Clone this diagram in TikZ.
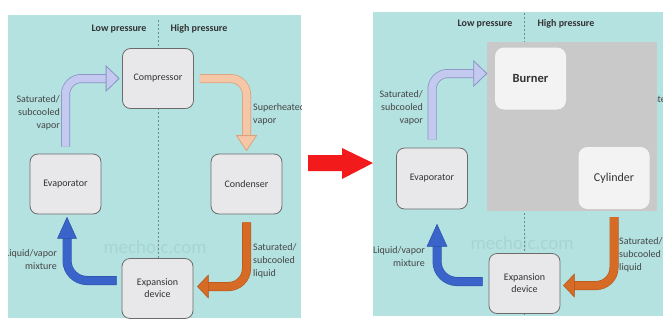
\documentclass[tikz,border=0pt]{standalone}
\usepackage{fontspec}
\setmainfont{Carlito}
\usetikzlibrary{calc}

\definecolor{panel}{HTML}{B4E2E1}
\definecolor{boxfill}{HTML}{E8E8EB}
\definecolor{boxline}{HTML}{6B6B6B}
\definecolor{boxtxt}{HTML}{333333}
\definecolor{notetxt}{HTML}{454545}
\definecolor{dashcol}{HTML}{6F8A8C}
\definecolor{wmcol}{HTML}{A8D5D4}
\definecolor{greyarea}{HTML}{C9C9C9}
\definecolor{whitebox}{HTML}{F3F3F3}
\definecolor{lav}{HTML}{C3C9EF}
\definecolor{lavb}{HTML}{8A92C4}
\definecolor{peach}{HTML}{F6C7A7}
\definecolor{peachb}{HTML}{D9A27F}
\definecolor{rust}{HTML}{D66B26}
\definecolor{rustb}{HTML}{B0541A}
\definecolor{royal}{HTML}{3A64C9}
\definecolor{royalb}{HTML}{2B4FA8}
\definecolor{signal}{HTML}{F21A1A}

\begin{document}
\begin{tikzpicture}[x=1pt, y=-1pt,
    unit/.style = {draw=boxline, fill=boxfill, rounded corners=8pt, line width=0.8pt,
                   minimum width=71pt, minimum height=60pt, align=center, text=boxtxt,
                   font=\fontsize{10}{12}\selectfont},
    plain/.style = {fill=whitebox, rounded corners=9pt, minimum width=71pt,
                    minimum height=62pt, text=boxtxt},
    note/.style = {inner sep=0pt, text=notetxt, font=\fontsize{10}{13}\selectfont},
    side/.style = {inner sep=0pt, text=boxtxt, font=\bfseries\fontsize{10}{12}\selectfont},
    divider/.style = {draw=dashcol, line width=0.8pt, dash pattern=on 2pt off 2pt},
    wmark/.style = {inner sep=0pt, text=wmcol, font=\fontsize{19}{20}\selectfont},
    lavshaft/.style = {draw=lav, line width=7.5pt, rounded corners=16pt,
                       preaction={draw=lavb, line width=9pt}},
    peachshaft/.style = {draw=peach, line width=7.5pt, rounded corners=16pt,
                         preaction={draw=peachb, line width=9pt}},
    rustshaft/.style = {draw=rust, line width=8pt, rounded corners=18pt,
                        preaction={draw=rustb, line width=9pt}},
    royalshaft/.style = {draw=royal, line width=8pt, rounded corners=20pt,
                         preaction={draw=royalb, line width=9pt}},
    lavhead/.style = {fill=lav, draw=lavb, line width=0.8pt},
    peachhead/.style = {fill=peach, draw=peachb, line width=0.8pt},
    rusthead/.style = {fill=rust, draw=rustb, line width=0.5pt},
    royalhead/.style = {fill=royal, draw=royalb, line width=0.5pt}]

\useasboundingbox (0,0) rectangle (663,322);

% the two panels
\fill[panel] (8,15) rectangle (301,318);
\fill[panel] (373,12) rectangle (663,316);

\node[wmark] (wm) at (155,247) {mechoic.com};
\node[wmark] (wm2) at (522,243) {mechoic.com};

\draw[divider] (158,20) -- (158,318);
\draw[divider] (524,13) -- (524,316);

% hidden behind the grey area
\begin{scope}
  \clip (373,12) rectangle (663,316);
  \node[note, anchor=west, align=left] (sup2) at (619,106) {Superheated\\vapor};
\end{scope}
\fill[greyarea] (487,42) rectangle (657,211);

% left cycle
\node[unit] (comp) at (158,78.5) {Compressor};
\node[unit] (evap) at (65.5,184) {Evaporator};
\node[unit] (cond) at (246.5,184) {Condenser};
\node[unit] (expn) at (157.5,288.5) {Expansion\\device};

\draw[lavshaft] ($(evap.north)+(0,-7)$) |- ($(comp.west)+(-12,0)$);
\filldraw[lavhead] ($(comp.west)+(-3,0)$) -- ++(-13,-12.5) -- ++(0,25) -- cycle;

\draw[peachshaft] ($(comp.east)+(6,0)$) -| ($(cond.north)+(0,-12)$);
\filldraw[peachhead] ($(cond.north)+(0,-3)$) -- ++(-10,-15) -- ++(20,0) -- cycle;

\draw[rustshaft] ($(cond.south)+(0,8)$) |- ($(expn.east)+(12,-2)$);
\filldraw[rusthead] ($(expn.east)+(4,-2)$) -- ++(11,-11.5) -- ++(0,23) -- cycle;

\draw[royalshaft] ($(expn.west)+(-5,-8)$) -| ($(evap.south)+(1.5,16)$);
\filldraw[royalhead] ($(evap.south)+(1.5,3)$) -- ++(-9.5,21) -- ++(19,0) -- cycle;

\begin{scope}
  \clip (8,15) rectangle (301,318);
  \node[note, anchor=east, align=right] (satv) at (60,113) {Saturated/\\subcooled\\vapor};
  \node[note, anchor=west, align=left] (sup) at (253,114) {Superheated\\vapor};
  \node[note, anchor=west, align=left] (satl) at (253,261) {Saturated/\\subcooled\\liquid};
  \node[note, anchor=east, align=right] (mix) at (57,260) {Liquid/vapor\\mixture};
\end{scope}

\node[side] (low) at (119,29) {Low pressure};
\node[side] (high) at (199,29) {High pressure};

% red arrow between panels
\fill[signal] (308,155) -- (342,155) -- (342,148) -- (373,163) -- (342,179)
  -- (342,171) -- (308,171) -- cycle;

% right cycle
\node[plain, font=\bfseries\fontsize{12.5}{14}\selectfont] (burner) at (530.5,78.5) {Burner};
\node[plain, font=\fontsize{12}{14}\selectfont] (cyl) at (614,178) {Cylinder};
\node[unit, minimum height=61pt] (evap2) at (432,178.5) {Evaporator};
\node[unit] (expn2) at (524.5,283.5) {Expansion\\device};

\draw[lavshaft] ($(evap2.north)+(0,-8)$) |- ($(burner.west)+(-17,-5)$);
\filldraw[lavhead] ($(burner.west)+(-8,-5)$) -- ++(-13,-12.5) -- ++(0,25) -- cycle;

\draw[rustshaft] ($(cyl.south)+(0,8)$) |- ($(expn2.east)+(11,2)$);
\filldraw[rusthead] ($(expn2.east)+(3,2)$) -- ++(11,-11.5) -- ++(0,23) -- cycle;

\draw[royalshaft] ($(expn2.west)+(-6,-2)$) -| ($(evap2.south)+(5,28)$);
\filldraw[royalhead] ($(evap2.south)+(5,15)$) -- ++(-10,22) -- ++(20,0) -- cycle;

\node[note, anchor=east, align=right] (satv2) at (423,108) {Saturated/\\subcooled\\vapor};
\node[note, anchor=east, align=right] (mix2) at (425,257) {Liquid/vapor\\mixture};
\node[note, anchor=west, align=left] (satl2) at (619,255) {Saturated/\\subcooled\\liquid};

\node[side] (low2) at (485,24) {Low pressure};
\node[side] (high2) at (566,24) {High pressure};
\end{tikzpicture}
\end{document}
